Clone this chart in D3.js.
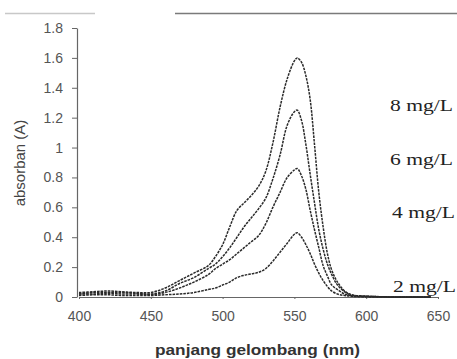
<!DOCTYPE html>
<html><head><meta charset="utf-8">
<script src="https://cdn.jsdelivr.net/npm/d3@7"></script>
<style>body{margin:0;background:#fff}svg{display:block}</style>
</head><body>
<svg id="c" width="457" height="359"></svg>
<script>
const wavelength = [400,410,420,430,440,450,460,470,480,490,495,500,505,510,515,520,525,530,535,540,545,550,552,555,558,561,564,567,570,573,576,580,585,590,600,620,645];
const abs8 = [.03,.035,.04,.035,.03,.03,.06,.11,.16,.21,.27,.35,.47,.58,.63,.68,.74,.84,1.03,1.27,1.46,1.58,1.60,1.57,1.48,1.32,1.02,.70,.47,.29,.18,.10,.04,.015,.005,0,0];
const abs6 = [.02,.03,.03,.03,.025,.02,.04,.09,.13,.19,.22,.27,.33,.40,.47,.53,.59,.66,.79,.95,1.15,1.24,1.25,1.18,1.02,.82,.63,.45,.32,.22,.15,.08,.035,.01,.005,0,0];
const abs4 = [.02,.02,.025,.02,.02,.015,.03,.06,.10,.15,.19,.22,.25,.29,.33,.37,.41,.49,.60,.70,.80,.85,.86,.81,.72,.58,.45,.33,.21,.14,.08,.05,.02,.01,.005,0,0];
const abs2 = [.01,.015,.015,.01,.01,.01,.015,.02,.03,.05,.06,.08,.10,.13,.145,.155,.165,.19,.24,.30,.36,.42,.43,.40,.35,.29,.22,.16,.11,.07,.04,.02,.01,.005,0,0,0];
const seriesNames = ["8 mg/L","6 mg/L","4 mg/L","2 mg/L"];
const seriesValues = [abs8, abs6, abs4, abs2];
const labelLevels = [1.21, 0.85, 0.495, 0];
const xTicks = [400,450,500,550,600,650];
const yTicks = [0,0.2,0.4,0.6,0.8,1,1.2,1.4,1.6,1.8];
const xTitle = "panjang gelombang (nm)";
const yTitle = "absorban (A)";

const svg = d3.select("#c");
const x = d3.scaleLinear().domain([400,650]).range([79,438]);
const y = d3.scaleLinear().domain([0,1.8]).range([297,28]);

// scan artifact line at top
svg.append("line").attr("x1",5).attr("x2",95).attr("y1",13.5).attr("y2",13.5).attr("stroke","#c8c8c8").attr("stroke-width",1.5);
svg.append("line").attr("x1",175).attr("x2",457).attr("y1",13.5).attr("y2",13.5).attr("stroke","#7a7a7a").attr("stroke-width",1.5);

const fmt = d => d===0?"0":(d===1?"1":d3.format(".1f")(d));
const gy = svg.append("g").attr("transform","translate(77,0)")
  .call(d3.axisLeft(y).tickValues(yTicks).tickFormat(fmt).tickSize(5).tickPadding(9).tickSizeOuter(0));
const gx = svg.append("g").attr("transform","translate(0,297)")
  .call(d3.axisBottom(x).tickValues(xTicks).tickFormat(d3.format("d")).tickSize(2).tickPadding(12).tickSizeOuter(0));
[gx,gy].forEach(g=>{
  g.select(".domain").attr("stroke","#666").attr("stroke-width",1.2);
  g.selectAll(".tick line").attr("stroke","#666");
  g.selectAll(".tick text").attr("fill","#555").attr("font-family","Liberation Sans, Arial, sans-serif").attr("font-size",14);
});

const line = d3.line().x((d,i)=>x(wavelength[i])).y(d=>y(d)).curve(d3.curveCatmullRom.alpha(0.5));
seriesValues.forEach(vals=>{
  svg.append("path").attr("d",line(vals)).attr("fill","none")
    .attr("stroke","#2a2a2a").attr("stroke-width",1.5).attr("stroke-dasharray","2.6,1");
});

const lblX = [390,390,392,393];
seriesNames.forEach((n,i)=>{
  svg.append("text").attr("x",lblX[i]).attr("y",y(labelLevels[i])-5)
    .attr("font-family","Liberation Serif, Times New Roman, serif").attr("font-size",17)
    .attr("fill","#222").attr("textLength",63).attr("lengthAdjust","spacingAndGlyphs").text(n);
});

svg.append("text").attr("x",155).attr("y",355)
  .attr("font-family","Liberation Sans, Arial, sans-serif").attr("font-size",15).attr("font-weight","bold")
  .attr("fill","#333").attr("textLength",205).attr("lengthAdjust","spacingAndGlyphs").text(xTitle);
svg.append("text").attr("transform","translate(25,163) rotate(-90)").attr("text-anchor","middle")
  .attr("font-family","Liberation Sans, Arial, sans-serif").attr("font-size",15)
  .attr("fill","#444").text(yTitle);
</script>
</body></html>
